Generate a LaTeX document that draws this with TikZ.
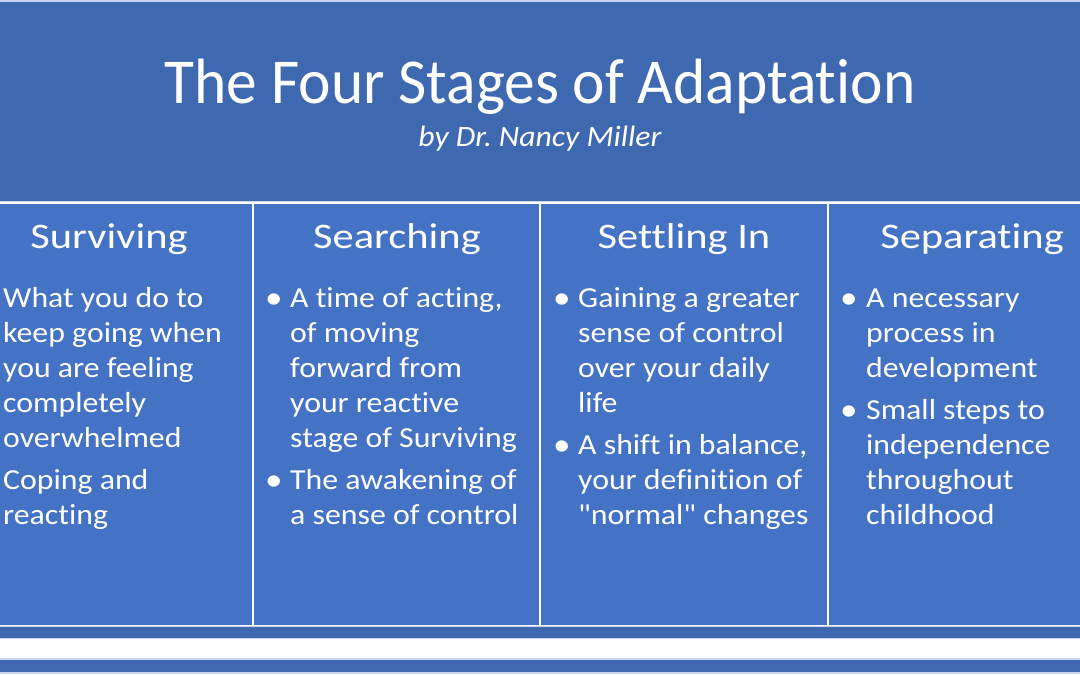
\documentclass[tikz,border=0pt]{standalone}
\usepackage{fontspec}
\setmainfont{Carlito}[Ligatures={NoCommon,TeXOff}]
\newfontfamily\titlefont{Carlito}[Ligatures={NoCommon,TeXOff},FakeStretch=0.96]
\newfontfamily\subfont{Carlito}[Ligatures={NoCommon,TeXOff},FakeStretch=1.075]
\newfontfamily\headfont{Carlito}[Ligatures={NoCommon,TeXOff},FakeStretch=1.18]
\newfontfamily\bodyfont{Carlito}[Ligatures={NoCommon,TeXOff},FakeStretch=1.097]
\frenchspacing
\definecolor{hdr}{HTML}{3E68B0}
\definecolor{col}{HTML}{4472C4}
\definecolor{edge}{HTML}{C9D5EC}
\tikzset{
  band/.style={fill=hdr, draw=edge, line width=1.2pt},
  colbox/.style={fill=col, draw=white, line width=2pt},
  ttl/.style={text=white, inner sep=0pt, font=\titlefont\fontsize{64}{70}\selectfont},
  sub/.style={text=white, inner sep=0pt, font=\subfont\fontsize{29.5}{32}\selectfont\itshape\frenchspacing},
  head/.style={text=white, inner sep=0pt, font=\headfont\fontsize{36}{40}\selectfont},
  body/.style={text=white, inner sep=0pt, anchor=base west, font=\bodyfont\fontsize{29}{35}\selectfont},
  bul/.style={body, font=\bodyfont\fontsize{32}{35}\selectfont},
}
\begin{document}
\begin{tikzpicture}[x=1pt,y=-1pt]
\useasboundingbox (0,0) rectangle (1080,675);
\fill[white] (0,0) rectangle (1080,675);
% header band
\path[band] (-10,1) rectangle (1090,202);
% columns
\path[colbox] (-40,203) rectangle (253,626);
\path[colbox] (253,203) rectangle (540,626);
\path[colbox] (540,203) rectangle (828,626);
\path[colbox] (828,203) rectangle (1120,626);
% bottom bands
\path[band] (-10,626.5) rectangle (1090,638.5);
\path[band] (-10,659) rectangle (1090,673);
% title
\node[ttl, anchor=base] (title) at (540,103) {The Four Stages of Adaptation};
\node[sub, anchor=base] (subtitle) at (540,146) {by Dr. Nancy Miller};
% headings
\node[head, anchor=base] (h1) at (109,248) {Surviving};
\node[head, anchor=base] (h2) at (397,248) {Searching};
\node[head, anchor=base] (h3) at (684,248) {Settling In};
\node[head, anchor=base] (h4) at (972,248) {Separating};
% column 1
\node[body] (a1) at (3,307) {What you do to};
\node[body] (a2) at (3,342) {keep going when};
\node[body] (a3) at (3,377) {you are feeling};
\node[body] (a4) at (3,412) {completely};
\node[body] (a5) at (3,447) {overwhelmed};
\node[body] (a6) at (3,489) {Coping and};
\node[body] (a7) at (3,524) {reacting};
% column 2
\node[bul] (b0) at (265,308) {•};
\node[body] (b1) at (290,307) {A time of acting,};
\node[body] (b2) at (290,342) {of moving};
\node[body] (b3) at (290,377) {forward from};
\node[body] (b4) at (290,412) {your reactive};
\node[body] (b5) at (290,447) {stage of Surviving};
\node[bul] (b9) at (265,490) {•};
\node[body] (b6) at (290,489) {The awakening of};
\node[body] (b7) at (290,524) {a sense of control};
% column 3
\node[bul] (c0) at (553,308) {•};
\node[body] (c1) at (578,307) {Gaining a greater};
\node[body] (c2) at (578,342) {sense of control};
\node[body] (c3) at (578,377) {over your daily};
\node[body] (c4) at (578,412) {life};
\node[bul] (c9) at (553,455) {•};
\node[body] (c5) at (578,454) {A shift in balance,};
\node[body] (c6) at (578,489) {your definition of};
\node[body] (c7) at (578,524) {"normal" changes};
% column 4
\node[bul] (d0) at (840,308) {•};
\node[body] (d1) at (866,307) {A necessary};
\node[body] (d2) at (866,342) {process in};
\node[body] (d3) at (866,377) {development};
\node[bul] (d9) at (840,420) {•};
\node[body] (d4) at (866,419) {Small steps to};
\node[body] (d5) at (866,454) {independence};
\node[body] (d6) at (866,489) {throughout};
\node[body] (d7) at (866,524) {childhood};
\end{tikzpicture}
\end{document}
